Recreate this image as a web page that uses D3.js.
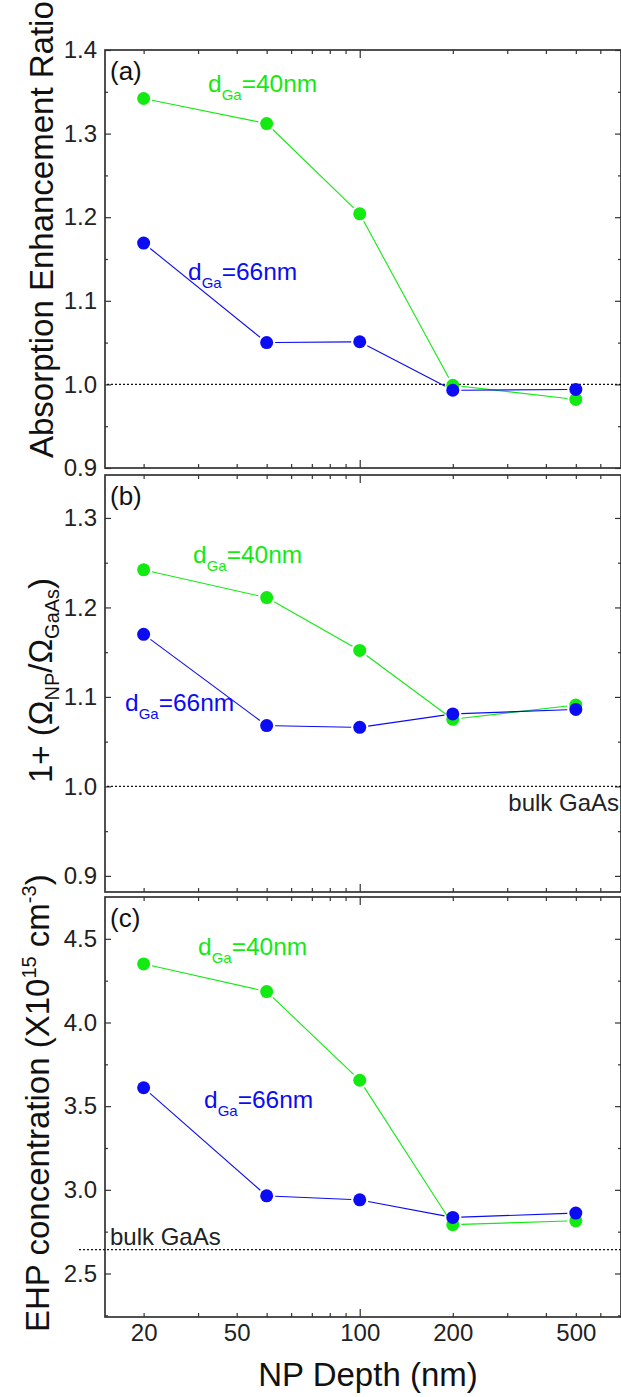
<!DOCTYPE html>
<html>
<head>
<meta charset="utf-8">
<script src="https://cdn.jsdelivr.net/npm/d3@7"></script>
<style>
  html, body { margin: 0; padding: 0; background: #fff; }
  svg { display: block; font-family: "Liberation Sans", Arial, sans-serif; }
</style>
</head>
<body>
<svg id="chart" width="621" height="1397"></svg>
<script>
// NP depth (nm) of each simulated structure
const depths = [20, 50, 100, 200, 500];

// (a) absorption enhancement ratio
const ratio40 = [1.342, 1.312, 1.204, 0.999, 0.982];
const ratio66 = [1.169, 1.050, 1.051, 0.993, 0.994];

// (b) 1 + Omega_NP / Omega_GaAs
const omega40 = [1.242, 1.211, 1.152, 1.075, 1.091];
const omega66 = [1.170, 1.068, 1.066, 1.081, 1.086];

// (c) electron-hole pair concentration (x10^15 cm^-3)
const ehp40 = [4.350, 4.185, 3.655, 2.792, 2.815];
const ehp66 = [3.610, 2.964, 2.940, 2.835, 2.861];

// reference levels for bulk GaAs
const bulkRatio = 1.0;
const bulkOmega = 1.0;
const bulkEhp = 2.643;

// x-axis tick positions and the labels printed at them
const xTickValues = [20, 40, 100, 200, 500];
const xTickLabels = ["20", "50", "100", "200", "500"];
const xMinorTicks = [20, 30, 40, 50, 60, 70, 80, 90, 200, 300, 400, 500, 600, 700];
const xMajorTicks = [100];

const seriesNames = ["40nm", "66nm"];
const seriesColors = ["#12ea12", "#0c0cf2"];

const svg = d3.select("#chart");
const x = d3.scaleLog().domain([15, 700]).range([105, 621]);

const panels = [
  { tag: "(a)", top: 50, bottom: 468, domain: [0.9, 1.4], major: d3.range(0.9, 1.401, 0.1), minor: d3.range(0.95, 1.4, 0.1),
    series: [ratio40, ratio66], bulk: bulkRatio, bulkText: null, lineX0: 107,
    labels: [{ x: 208, y: 92 }, { x: 188, y: 280 }] },
  { tag: "(b)", top: 475, bottom: 892, domain: [0.882, 1.348], major: d3.range(0.9, 1.301, 0.1), minor: d3.range(0.95, 1.3, 0.1),
    series: [omega40, omega66], bulk: bulkOmega, bulkText: { x: 619, y: 811, anchor: "end" }, lineX0: 107,
    labels: [{ x: 193, y: 563 }, { x: 125, y: 711 }] },
  { tag: "(c)", top: 897, bottom: 1317, domain: [2.24, 4.75], major: d3.range(2.5, 4.501, 0.5), minor: d3.range(2.25, 4.75, 0.5),
    series: [ehp40, ehp66], bulk: bulkEhp, bulkText: { x: 110, y: 1245, anchor: "start" }, lineX0: 79,
    labels: [{ x: 198, y: 955 }, { x: 204, y: 1108 }] }
];

const frameColor = "#333";
const [xl, xr] = x.range();

panels.forEach((p, pi) => {
  const y = d3.scaleLinear().domain(p.domain).range([p.bottom, p.top]);
  const g = svg.append("g");

  // frame
  g.append("rect")
    .attr("x", xl).attr("y", p.top)
    .attr("width", xr - xl).attr("height", p.bottom - p.top)
    .attr("fill", "none").attr("stroke", frameColor).attr("stroke-width", 1.7);

  const styleAxis = sel => {
    sel.select(".domain").remove();
    sel.selectAll(".tick line").attr("stroke", frameColor).attr("stroke-width", 1.2);
  };

  // y ticks, left and right, pointing inward
  g.append("g").attr("transform", `translate(${xl},0)`)
    .call(d3.axisLeft(y).tickValues(p.major).tickSize(-6).tickPadding(8).tickFormat(d3.format(".1f")))
    .call(styleAxis)
    .call(s => s.selectAll("text").attr("font-size", 24).attr("fill", "#222")
      .attr("font-family", "Liberation Sans, Arial, sans-serif"));
  g.append("g").attr("transform", `translate(${xl},0)`)
    .call(d3.axisLeft(y).tickValues(p.minor).tickSize(-3).tickFormat(""))
    .call(styleAxis);
  g.append("g").attr("transform", `translate(${xr},0)`)
    .call(d3.axisRight(y).tickValues(p.major).tickSize(-6).tickFormat(""))
    .call(styleAxis);
  g.append("g").attr("transform", `translate(${xr},0)`)
    .call(d3.axisRight(y).tickValues(p.minor).tickSize(-3).tickFormat(""))
    .call(styleAxis);

  // x ticks, bottom and top, pointing inward
  [[d3.axisBottom, p.bottom], [d3.axisTop, p.top]].forEach(([axisFn, yy]) => {
    g.append("g").attr("transform", `translate(0,${yy})`)
      .call(axisFn(x).tickValues(xMinorTicks).tickSize(-4).tickFormat(""))
      .call(styleAxis);
    g.append("g").attr("transform", `translate(0,${yy})`)
      .call(axisFn(x).tickValues(xMajorTicks).tickSize(-8).tickFormat(""))
      .call(styleAxis);
  });

  // bottom tick labels on the last panel only
  if (pi === panels.length - 1) {
    g.append("g").attr("transform", `translate(0,${p.bottom})`)
      .call(d3.axisBottom(x).tickValues(xTickValues).tickSize(0).tickPadding(7)
        .tickFormat((d, i) => xTickLabels[i]))
      .call(s => s.select(".domain").remove())
      .call(s => s.selectAll("text").attr("font-size", 24).attr("fill", "#222")
        .attr("font-family", "Liberation Sans, Arial, sans-serif"));
  }

  // bulk GaAs reference line
  g.append("line")
    .attr("x1", p.lineX0).attr("x2", xr)
    .attr("y1", y(p.bulk)).attr("y2", y(p.bulk))
    .attr("stroke", "#111").attr("stroke-width", 1.3).attr("stroke-dasharray", "2,2");
  if (p.bulkText) {
    g.append("text").attr("x", p.bulkText.x).attr("y", p.bulkText.y)
      .attr("text-anchor", p.bulkText.anchor).attr("font-size", 24).attr("fill", "#222")
      .text("bulk GaAs");
  }

  // panel letter
  g.append("text").attr("x", xl + 5).attr("y", p.top + 30)
    .attr("font-size", 26).attr("fill", "#111").text(p.tag);

  // data series: segments with a small gap at each marker, then markers
  const r = 6.5, gap = r + 2;
  p.series.forEach((vals, si) => {
    const pts = depths.map((d, i) => [x(d), y(vals[i])]);
    const segs = d3.pairs(pts);
    const f = ([a, b]) => gap / Math.hypot(b[0] - a[0], b[1] - a[1]);
    g.append("g").selectAll("line").data(segs).join("line")
      .attr("x1", s => s[0][0] + (s[1][0] - s[0][0]) * f(s))
      .attr("y1", s => s[0][1] + (s[1][1] - s[0][1]) * f(s))
      .attr("x2", s => s[1][0] - (s[1][0] - s[0][0]) * f(s))
      .attr("y2", s => s[1][1] - (s[1][1] - s[0][1]) * f(s))
      .attr("stroke", seriesColors[si]).attr("stroke-width", 1.1);
  });
  p.series.forEach((vals, si) => {
    g.append("g").selectAll("circle").data(depths).join("circle")
      .attr("cx", d => x(d)).attr("cy", (d, i) => y(vals[i]))
      .attr("r", r).attr("fill", seriesColors[si]);
  });

  // series annotations d_Ga = ...
  p.labels.forEach((pos, si) => {
    const t = g.append("text").attr("x", pos.x).attr("y", pos.y)
      .attr("fill", seriesColors[si]).attr("font-size", 24.5);
    t.append("tspan").text("d");
    t.append("tspan").attr("dy", 8).attr("font-size", 15).text("Ga");
    t.append("tspan").attr("dy", -8).text("=" + seriesNames[si]);
  });
});

// y-axis titles
const titleSize = 33;
svg.append("text").attr("transform", "translate(53,458) rotate(-90)")
  .attr("font-size", titleSize).attr("fill", "#111").text("Absorption Enhancement Ratio");

const tb = svg.append("text").attr("transform", "translate(52,783) rotate(-90)")
  .attr("font-size", titleSize).attr("fill", "#111");
tb.append("tspan").text("1+ (Ω");
tb.append("tspan").attr("dy", 7).attr("font-size", 20).text("NP");
tb.append("tspan").attr("dy", -7).text("/Ω");
tb.append("tspan").attr("dy", 7).attr("font-size", 20).text("GaAs");
tb.append("tspan").attr("dy", -7).text(")");

const tc = svg.append("text").attr("transform", "translate(49,1332) rotate(-90)")
  .attr("font-size", titleSize).attr("fill", "#111");
tc.append("tspan").text("EHP concentration (X10");
tc.append("tspan").attr("dy", -13).attr("font-size", 20).text("15");
tc.append("tspan").attr("dy", 13).text(" cm");
tc.append("tspan").attr("dy", -13).attr("font-size", 20).text("-3");
tc.append("tspan").attr("dy", 13).text(")");

// x-axis title
svg.append("text").attr("x", 368).attr("y", 1386).attr("text-anchor", "middle")
  .attr("font-size", titleSize).attr("fill", "#111").text("NP Depth (nm)");
</script>
</body>
</html>
